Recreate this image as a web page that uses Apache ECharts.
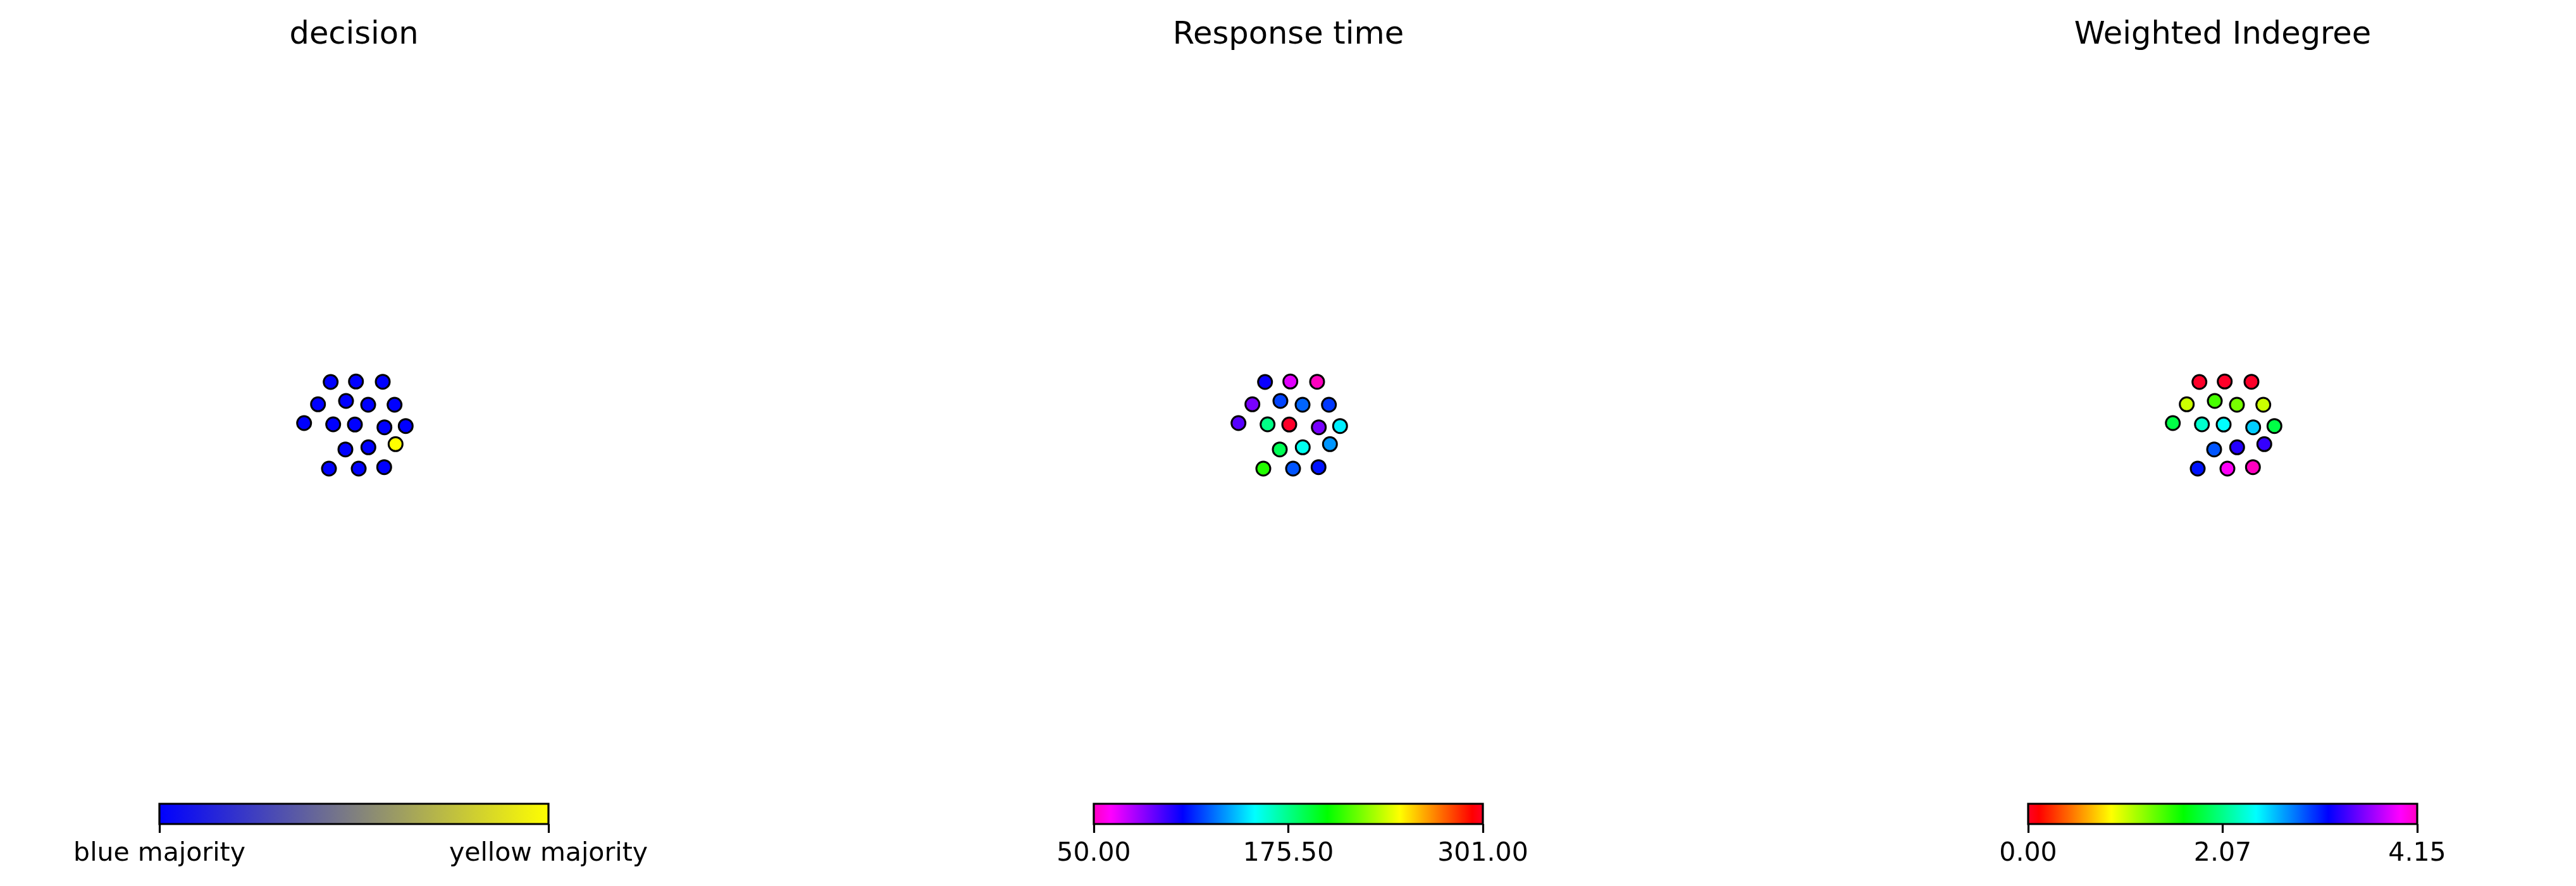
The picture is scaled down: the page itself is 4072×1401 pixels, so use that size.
<!DOCTYPE html>
<html>
<head>
<meta charset="utf-8">
<script src="https://cdn.jsdelivr.net/npm/echarts@6/dist/echarts.min.js"></script>
<style>
html,body{margin:0;padding:0;background:#fff;}
#chart{width:4072px;height:1401px;}
</style>
</head>
<body>
<div id="chart"></div>
<script>
// ---- data ----
const panelTitles = ['decision', 'Response time', 'Weighted Indegree'];
// node layout (layout units, y up), identical in all three panels
const nodeX = [-36.8, 3.2, 45.5, -56.8, -12.5, 22.5, 64.2, -78.8, -32.8, 1.5, 48.2, 81.8, 65.8, -13.5, 22.8, -39.5, 7.5, 47.8];
const nodeY = [68, 68.7, 68.3, 32.7, 38, 32, 32, 3, 1, 0.7, -3.7, -1.7, -30.3, -38.7, -35.3, -69, -69, -66.7];
const decision = [0, 0, 0, 0, 0, 0, 0, 0, 0, 0, 0, 0, 1, 0, 0, 0, 0, 0];
const responseTime = [106, 67, 50, 86, 120, 126, 118, 92, 176, 301, 86, 151, 135, 185, 157, 207, 123, 111];
const weightedIndegree = [0, 0, 0, 1.05, 1.45, 1.30, 1.05, 1.87, 2.28, 2.43, 2.58, 1.87, 3.35, 2.94, 3.30, 3.14, 3.98, 4.148];
const decisionRange = [0, 1];
const decisionTicks = [0, 1];
const decisionTickLabels = ['blue majority', 'yellow majority'];
const responseRange = [50, 301];
const responseTicks = [50, 175.5, 301];
const indegreeRange = [0, 4.148];
const indegreeTicks = [0, 2.074, 4.148];

// ---- colormaps ----
const gistRainbowSeg = [[0,[1,0,0.16]],[0.03,[1,0,0]],[0.215,[1,1,0]],[0.4,[0,1,0]],[0.586,[0,1,1]],[0.77,[0,0,1]],[0.954,[1,0,1]],[1,[1,0,0.75]]];
function gistRainbow(t){
  t = Math.max(0, Math.min(1, t));
  for (let i = 1; i < gistRainbowSeg.length; i++) {
    const [t1, c1] = gistRainbowSeg[i], [t0, c0] = gistRainbowSeg[i-1];
    if (t <= t1) {
      const f = (t - t0) / (t1 - t0);
      return c0.map((v, k) => v + (c1[k] - v) * f);
    }
  }
  return gistRainbowSeg[gistRainbowSeg.length-1][1];
}
function toHex(c){ return '#' + c.map(v => Math.round(v*255).toString(16).padStart(2,'0')).join(''); }
function sample(fn, n){ const a=[]; for(let i=0;i<n;i++) a.push(toHex(fn(i/(n-1)))); return a; }
const decisionColors = ['#0000ff', '#ffff00'];
const rainbowR = sample(t => gistRainbow(1 - t), 201);
const rainbow = sample(t => gistRainbow(t), 201);
function stops(colors){ return colors.map((c,i)=>({offset:i/(colors.length-1), color:c})); }

// ---- layout ----
const FONT = 'DejaVu Sans';
const panelCx = [559.5, 2036.5, 3513.5];
const clusterCy = 672;
const half = 300;
const cbW = 615, cbTop = 1271, cbH = 32;

const grids = [], xAxes = [], yAxes = [], series = [], titles = [];
const valuesArr = [decision, responseTime, weightedIndegree];
const ranges = [decisionRange, responseRange, indegreeRange];
const ticksArr = [decisionTicks, responseTicks, indegreeTicks];
const colorsArr = [decisionColors, rainbowR, rainbow];

panelCx.forEach((cx, k) => {
  // node panel
  grids.push({left: cx - half, top: clusterCy - half, width: 2*half, height: 2*half});
  xAxes.push({gridIndex: grids.length-1, type:'value', min:-half, max:half, show:false});
  yAxes.push({gridIndex: grids.length-1, type:'value', min:-half, max:half, show:false});
  series.push({
    type:'scatter', xAxisIndex: grids.length-1, yAxisIndex: grids.length-1,
    symbol:'circle', symbolSize: 22,
    itemStyle:{borderColor:'#000', borderWidth:3, opacity:1},
    data: nodeX.map((x,i)=>[x, nodeY[i], valuesArr[k][i]]),
    silent:true
  });
  titles.push({text: panelTitles[k], left: cx, top: 31, textAlign:'center', padding:0,
    textStyle:{fontFamily:FONT, fontSize:49.5, fontWeight:'normal', color:'#000', lineHeight:49.5}});
});

panelCx.forEach((cx, k) => {
  // colorbar
  const gi = grids.length;
  grids.push({left: cx - cbW/2, top: cbTop, width: cbW, height: cbH});
  const isDecision = k === 0;
  xAxes.push({gridIndex: gi, type:'value', min: ranges[k][0], max: ranges[k][1],
    axisLine:{show:false}, splitLine:{show:false},
    axisTick:{show:true, length:14, customValues: ticksArr[k], lineStyle:{color:'#000', width:3.2}},
    axisLabel:{show:true, customValues: ticksArr[k], margin:27, fontFamily:FONT, fontSize:41, color:'#000', lineHeight:41,
      formatter: v => isDecision ? decisionTickLabels[decisionTicks.indexOf(v)] : Number(v).toFixed(2)}
  });
  yAxes.push({gridIndex: gi, type:'value', min:0, max:1, show:false});
  const grad = stops(colorsArr[k]);
  series.push({
    type:'custom', xAxisIndex: gi, yAxisIndex: gi, silent:true, clip:false,
    data:[[ranges[k][0], ranges[k][1]]],
    renderItem:(params, api) => {
      const p0 = api.coord([api.value(0), 0]);
      const p1 = api.coord([api.value(1), 1]);
      return {type:'rect', shape:{x:p0[0], y:p1[1], width:p1[0]-p0[0], height:p0[1]-p1[1]},
        style:{fill:new echarts.graphic.LinearGradient(0,0,1,0, grad), stroke:'#000', lineWidth:3.2}};
    }
  });
});

const chart = echarts.init(document.getElementById('chart'), null, {renderer:'canvas'});
chart.setOption({
  animation:false,
  backgroundColor:'#fff',
  title: titles,
  grid: grids,
  xAxis: xAxes,
  yAxis: yAxes,
  visualMap: [0,1,2].map(k => ({
    type:'continuous', show:false, seriesIndex:k, dimension:2,
    min: ranges[k][0], max: ranges[k][1], inRange:{color: colorsArr[k]}
  })),
  series: series
});
</script>
</body>
</html>
